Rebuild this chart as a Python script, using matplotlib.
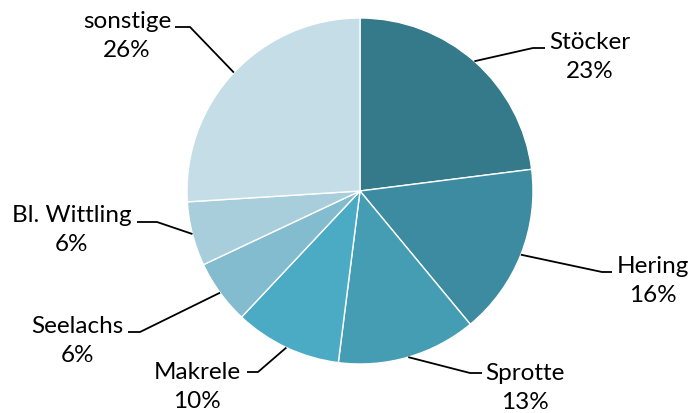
import numpy as np
import matplotlib.pyplot as plt

labels = ['Stöcker', 'Hering', 'Sprotte', 'Makrele', 'Seelachs', 'Bl. Wittling', 'sonstige']
values = [23, 16, 13, 10, 6, 6, 26]
colors = ['#347a8b', '#3c8ba0', '#459db3', '#4babc5', '#84bccf', '#a8cedc', '#c4dde6']

# label layout in pixel coords: text block centre, elbow of leader line, end of short horizontal piece
text_pos = [(590, 57), (653, 281), (525, 388), (197, 387), (77, 341), (72, 230), (127, 36)]
elbow_pos = [(533, 49), (602, 273), (470, 374), (258, 373), (140, 333), (157, 223), (190, 28)]
end_pos = [(545, 49), (612, 273), (482, 374), (247, 373), (128, 333), (137, 223), (175, 28)]

W, H = 691, 414
cx, cy, R = 360, 192, 173


def px(p):
    return ((p[0] - cx) / R, (cy - p[1]) / R)


fig = plt.figure(figsize=(W / 100, H / 100), dpi=100)
ax = fig.add_axes([0, 0, 1, 1])
wedges, _ = ax.pie(values, colors=colors, startangle=90, counterclock=False, radius=1,
                   wedgeprops=dict(edgecolor='white', linewidth=1))
ax.set_xlim(-cx / R, (W - cx) / R)
ax.set_ylim(-(H - cy) / R, cy / R)
ax.set_aspect('auto')
ax.axis('off')

for w, lab, v, tp, ep, en in zip(wedges, labels, values, text_pos, elbow_pos, end_pos):
    mid = np.deg2rad((w.theta1 + w.theta2) / 2)
    x0, y0 = np.cos(mid), np.sin(mid)
    ex, ey = px(ep)
    nx, ny = px(en)
    ax.plot([x0, ex, nx], [y0, ey, ny], color='black', lw=1.3, solid_capstyle='butt')
    tx, ty = px(tp)
    ax.text(tx, ty, f'{lab}\n{v}%', ha='center', va='center', fontsize=17.5,
            family='Lato', linespacing=1.42, color='black')

fig.savefig('out.png', dpi=100)
